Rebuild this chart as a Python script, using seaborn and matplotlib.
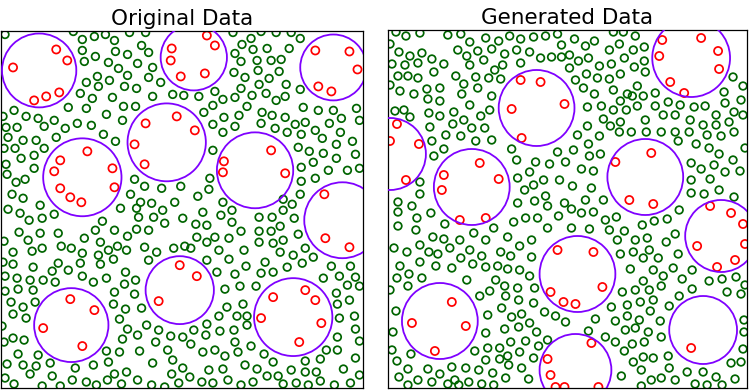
import numpy as np
import matplotlib
matplotlib.use("Agg")
import matplotlib.pyplot as plt
from matplotlib.patches import Circle
import seaborn as sns

# --- Original data: background points (green), points inside holes (red), holes ---
orig_green = np.array([
    (4, 354), (72, 357), (93, 352), (104, 354), (128, 356), (144, 356), (81, 349), (113, 348), (140, 343),
    (81, 338), (114, 337), (126, 334), (147, 336), (94, 332), (83, 327), (107, 326), (136, 325), (151, 321),
    (117, 320), (126, 313), (96, 312), (147, 311), (159, 306), (85, 306), (108, 308), (97, 302), (123, 302),
    (135, 300), (79, 295), (91, 290), (111, 291), (151, 292), (171, 294), (182, 293), (13, 278), (67, 281),
    (85, 280), (122, 282), (134, 282), (2, 272), (25, 272), (37, 270), (53, 268), (105, 274), (121, 268),
    (76, 265), (90, 263), (43, 262), (5, 261), (16, 261), (64, 260), (102, 254), (7, 251), (22, 248),
    (35, 248), (55, 251), (114, 247), (3, 240), (14, 240), (43, 240), (33, 233), (20, 230), (5, 224),
    (33, 220), (6, 214), (24, 209), (15, 206), (133, 209), (143, 202), (160, 200), (179, 202), (11, 194),
    (22, 190), (129, 194), (139, 186), (173, 186), (39, 183), (150, 185),
    (231, 356), (259, 357), (274, 356), (289, 356), (249, 350), (298, 350), (240, 344), (233, 335), (251, 339),
    (265, 340), (287, 340), (239, 327), (255, 328), (269, 328), (279, 329), (232, 316), (256, 318), (277, 317),
    (243, 311), (267, 310), (257, 304), (284, 304), (239, 300), (298, 299), (197, 292), (213, 297),
    (221, 289), (233, 291), (250, 293), (264, 295), (274, 288), (283, 292), (211, 283), (245, 282), (301, 281),
    (316, 278), (331, 278), (354, 280), (202, 276), (260, 276), (270, 273), (283, 271), (339, 270), (222, 271),
    (237, 273), (211, 264), (233, 262), (259, 265), (273, 260), (293, 264), (303, 266), (327, 265), (357, 268),
    (221, 256), (285, 256), (299, 254), (313, 258), (338, 256), (320, 250), (350, 247), (211, 238), (296, 241),
    (307, 237), (321, 235), (334, 244), (353, 234), (311, 226), (334, 230), (299, 221), (326, 218), (345, 218),
    (357, 220), (208, 210), (313, 210), (299, 207), (207, 199), (298, 194), (196, 192), (221, 186), (281, 189),
    (290, 184),
    (7, 179), (119, 180), (135, 180), (161, 178), (19, 175), (28, 168), (41, 170), (53, 174), (137, 171),
    (152, 171), (181, 170), (101, 167), (163, 165), (18, 156), (39, 155), (57, 155), (94, 158), (113, 158),
    (135, 159), (147, 158), (126, 152), (27, 148), (83, 150), (3, 147), (99, 146), (60, 142), (70, 140),
    (41, 140), (31, 137), (12, 136), (81, 135), (107, 138), (116, 142), (125, 138), (143, 141), (155, 136),
    (172, 140), (183, 142), (2, 126), (12, 124), (32, 121), (57, 125), (79, 125), (97, 133), (99, 124),
    (112, 129), (147, 128), (51, 117), (67, 118), (124, 116), (4, 112), (16, 110), (29, 108), (42, 108),
    (81, 112), (92, 106), (105, 110), (54, 106), (123, 104), (134, 108), (4, 97), (17, 99), (32, 98),
    (113, 96), (133, 94), (10, 86), (22, 81), (34, 86), (112, 84), (124, 79), (140, 80), (12, 74), (25, 70),
    (118, 69), (1, 62), (145, 63), (126, 59), (157, 58), (169, 52), (181, 51), (12, 50), (23, 48), (121, 49),
    (136, 53), (154, 46), (3, 46), (17, 34), (37, 33), (105, 37), (118, 36), (138, 37), (166, 38), (6, 24),
    (22, 23), (49, 25), (35, 22), (74, 20), (92, 23), (107, 26), (151, 25), (171, 28), (181, 20), (125, 16),
    (4, 10), (29, 14), (51, 12), (113, 14), (136, 8), (170, 14), (13, 4), (41, 2), (59, 2), (71, 8), (85, 6),
    (95, 3), (106, 8), (120, 4), (150, 3), (163, 1), (177, 5),
    (201, 176), (230, 178), (257, 171), (270, 171), (281, 178), (292, 170), (219, 173), (194, 164), (205, 163),
    (230, 166), (239, 157), (257, 157), (269, 157), (278, 162), (296, 154), (195, 151), (213, 151), (227, 150),
    (205, 146), (257, 146), (271, 145), (281, 148), (303, 140), (189, 140), (217, 138), (242, 138), (278, 136),
    (291, 133), (311, 131), (205, 128), (227, 129), (263, 126), (285, 121), (300, 125), (329, 122), (348, 122),
    (244, 122), (215, 116), (233, 114), (259, 115), (271, 116), (321, 110), (337, 112), (353, 111), (238, 102),
    (254, 102), (223, 99), (334, 95), (345, 103), (357, 102), (241, 84), (225, 81), (335, 84), (347, 88),
    (217, 72), (235, 72), (245, 72), (205, 64), (192, 58), (218, 57), (232, 58), (245, 63), (337, 70),
    (352, 72), (204, 53), (353, 59), (233, 46), (189, 44), (249, 42), (201, 36), (213, 38), (223, 32),
    (236, 36), (262, 34), (324, 38), (335, 38), (335, 51), (357, 47), (353, 30), (271, 26), (303, 27),
    (318, 29), (207, 18), (221, 19), (243, 23), (255, 19), (265, 12), (276, 12), (289, 18), (303, 16),
    (314, 16), (341, 19), (357, 13), (188, 11), (200, 6), (211, 5), (226, 8), (239, 3), (251, 6), (281, 4),
    (294, 5), (306, 3), (318, 7), (332, 3), (348, 5),
])
orig_red = np.array([
    (55, 339), (66, 328), (12, 321), (33, 288), (45, 292), (58, 296),
    (170, 340), (169, 328), (179, 312), (205, 353), (213, 343), (203, 315),
    (313, 338), (347, 337), (355, 319), (316, 302), (329, 297),
    (175, 272), (144, 265), (133, 244), (143, 224), (193, 258),
    (86, 237), (59, 228), (53, 217), (111, 220), (59, 200), (113, 201), (69, 191), (80, 186),
    (269, 238), (222, 227), (221, 216), (283, 215),
    (322, 194), (323, 150), (347, 141),
    (178, 123), (157, 87), (195, 112),
    (69, 89), (93, 78), (42, 60), (81, 42),
    (271, 91), (303, 98), (313, 88), (259, 70), (319, 65), (297, 46),
])
orig_centers = np.array([(38, 318), (192, 331), (331, 321), (165, 246), (81, 211),
                         (253, 218), (340, 168), (178, 98), (70, 63), (291, 71)])
orig_radii = [37, 33, 33, 39, 39, 38, 38, 34, 37, 39]

# --- Generated data ---
gen_green = np.array([
    (8, 356), (18, 352), (32, 355), (2, 344), (60, 353), (73, 354), (82, 346), (98, 350), (111, 347),
    (122, 352), (133, 349), (146, 351), (158, 352), (170, 354), (174, 343), (11, 336), (22, 332), (34, 335),
    (70, 338), (79, 332), (90, 337), (104, 339), (117, 334), (129, 338), (142, 336), (153, 330), (164, 331),
    (174, 331), (4, 324), (17, 323), (30, 325), (44, 329), (56, 324), (82, 323), (96, 328), (107, 318),
    (115, 323), (133, 325), (10, 312), (20, 312), (30, 310), (46, 316), (68, 312), (88, 311), (101, 310),
    (113, 309), (2, 303), (12, 297), (26, 294), (39, 299), (52, 300), (76, 304), (90, 300), (74, 294),
    (40, 289), (52, 287), (104, 292), (82, 283), (7, 277), (16, 278), (22, 271), (41, 275), (52, 272),
    (66, 276), (76, 268), (93, 272), (102, 278), (42, 261), (65, 264), (84, 260), (97, 260), (58, 253),
    (73, 252), (88, 247), (104, 248), (44, 247), (56, 239), (46, 232), (124, 239), (170, 236), (129, 228),
    (148, 226), (162, 224), (178, 226), (142, 216), (156, 208), (172, 208), (130, 210), (137, 198),
    (146, 203), (32, 206), (32, 194), (158, 192), (10, 186), (24, 182), (130, 185), (147, 187), (160, 182),
    (177, 185),
    (226, 356), (236, 356), (248, 352), (187, 349), (198, 342), (207, 347), (222, 338), (232, 344), (246, 338),
    (257, 341), (182, 333), (191, 327), (201, 330), (212, 322), (224, 324), (237, 330), (247, 321), (257, 327),
    (182, 320), (199, 314), (210, 310), (222, 309), (233, 314), (258, 316), (188, 308), (196, 300), (207, 294),
    (226, 298), (240, 294), (250, 302), (268, 295), (233, 287), (245, 292), (256, 292), (239, 278), (250, 282),
    (268, 282), (281, 286), (293, 283), (307, 281), (318, 282), (337, 296), (346, 311), (356, 302), (354, 288),
    (338, 285), (347, 276), (356, 273), (329, 273), (200, 281), (214, 282), (226, 278), (276, 273), (288, 273),
    (303, 268), (316, 263), (329, 263), (342, 266), (216, 269), (233, 266), (258, 268), (200, 262), (190, 253),
    (212, 252), (223, 262), (232, 256), (244, 256), (259, 256), (274, 256), (288, 256), (302, 256), (320, 253),
    (334, 252), (347, 256), (358, 240), (186, 238), (201, 244), (213, 234), (202, 232), (291, 247), (309, 244),
    (322, 240), (332, 234), (346, 228), (194, 219), (206, 217), (304, 225), (314, 219), (327, 223),
    (338, 216), (353, 217), (323, 209), (332, 198), (347, 191), (185, 202), (204, 200), (304, 208), (304, 195),
    (317, 194), (198, 188), (216, 188),
    (10, 176), (43, 175), (10, 162), (29, 170), (28, 158), (57, 164), (106, 160), (126, 166), (138, 170),
    (150, 170), (160, 160), (171, 172), (45, 151), (56, 149), (72, 148), (86, 155), (98, 148), (120, 151),
    (132, 142), (144, 148), (6, 140), (19, 136), (32, 143), (41, 136), (50, 134), (62, 140), (82, 138),
    (94, 132), (113, 136), (123, 132), (144, 131), (12, 122), (32, 126), (48, 122), (64, 120), (73, 130),
    (85, 124), (98, 121), (110, 122), (120, 119), (132, 118), (9, 110), (21, 114), (34, 110), (20, 102),
    (2, 98), (79, 108), (108, 108), (117, 102), (130, 100), (142, 112), (147, 100), (92, 92), (102, 97),
    (118, 92), (131, 88), (146, 85), (8, 77), (114, 80), (100, 73), (124, 71), (134, 74), (157, 76),
    (168, 72), (178, 66), (5, 56), (98, 55), (117, 59), (131, 61), (142, 65), (149, 56), (87, 37), (100, 40),
    (112, 40), (123, 46), (132, 36), (138, 47), (151, 42), (160, 48), (4, 38), (9, 27), (23, 34), (78, 20),
    (98, 28), (112, 29), (120, 32), (121, 23), (134, 20), (146, 30), (20, 19), (40, 19), (64, 21), (91, 18),
    (105, 15), (11, 11), (30, 8), (52, 14), (67, 8), (81, 6), (118, 10), (141, 9), (20, 3), (44, 6), (60, 4),
    (71, 3), (94, 4), (106, 3),
    (184, 179), (194, 175), (206, 176), (218, 168), (229, 171), (184, 160), (202, 159), (222, 158), (237, 157),
    (255, 163), (267, 167), (280, 169), (292, 178), (230, 148), (248, 148), (260, 150), (288, 154), (233, 134),
    (246, 136), (256, 130), (262, 138), (271, 130), (291, 134), (279, 146), (243, 119), (266, 118), (276, 112),
    (286, 120), (295, 109), (305, 118), (305, 99), (322, 107), (335, 109), (349, 111), (358, 103), (340, 96),
    (354, 94), (235, 96), (248, 98), (256, 107), (262, 98), (274, 102), (292, 92), (224, 81), (240, 83),
    (253, 86), (266, 88), (282, 82), (208, 69), (228, 67), (240, 72), (252, 68), (263, 77), (273, 67),
    (201, 57), (218, 51), (228, 46), (238, 58), (248, 60), (261, 56), (274, 51), (357, 68), (357, 56),
    (237, 37), (245, 44), (257, 46), (356, 39), (256, 31), (266, 30), (281, 32), (246, 26), (254, 18),
    (282, 20), (300, 16), (316, 16), (329, 11), (344, 25), (354, 26), (348, 9), (234, 12), (264, 8), (274, 10),
    (288, 8), (308, 4), (320, 3), (335, 3), (254, 2),
])
gen_red = np.array([
    (9, 264), (2, 247), (31, 244), (18, 208),
    (133, 308), (153, 306), (177, 284), (124, 279), (134, 250),
    (275, 348), (314, 350), (331, 337), (272, 332), (332, 319), (283, 306), (297, 295),
    (92, 225), (56, 213), (111, 209), (54, 198), (72, 168), (98, 170),
    (264, 235), (228, 226), (242, 188), (266, 184),
    (170, 138), (163, 96), (176, 86), (188, 84), (206, 136), (215, 101),
    (323, 182), (344, 175), (356, 164), (310, 142), (358, 144), (348, 128), (330, 121),
    (64, 86), (24, 65), (78, 62), (47, 37),
    (304, 40),
    (204, 45), (160, 29), (163, 13), (168, 1), (177, 1), (211, 1),
])
gen_centers = np.array([(2, 234), (149, 280), (304, 330), (84, 201), (258, 211),
                        (190, 114), (334, 152), (52, 67), (316, 58), (188, 18)])
gen_radii = [36, 38, 39, 38, 38, 38, 36, 38, 34, 36]

GREEN = "#006400"
RED = "#ff0000"
PURPLE = "#7f00ff"

sns.set_style("white")
plt.rcParams["font.family"] = ["DejaVu Sans"]

fig = plt.figure(figsize=(7.54, 3.90), dpi=100)
ax_l = fig.add_axes([1 / 754, 2 / 390, 361.5 / 754, 357.5 / 390])
ax_r = fig.add_axes([388 / 754, 2 / 390, 359 / 754, 358 / 390])


def draw_panel(ax, green, red, centers, radii, title):
    for pts, col, size in [(green, GREEN, 30), (red, RED, 34)]:
        sns.scatterplot(x=pts[:, 0], y=pts[:, 1], ax=ax, s=size, marker="o",
                        linewidth=1.25, legend=False, zorder=2)
        coll = ax.collections[-1]
        coll.set_facecolor("none")
        coll.set_edgecolor(col)
    for (cx, cy), r in zip(centers, radii):
        ax.add_patch(Circle((cx, cy), r, fill=False, edgecolor=PURPLE, lw=1.3, zorder=3))
    ax.set_xlim(0, 360)
    ax.set_ylim(0, 358)
    ax.set_xticks([])
    ax.set_yticks([])
    ax.set_xlabel("")
    ax.set_ylabel("")
    for sp in ax.spines.values():
        sp.set_visible(True)
        sp.set_color("black")
        sp.set_linewidth(0.9)
    ax.set_title(title, fontsize=15.5, pad=4, color="black")


draw_panel(ax_l, orig_green, orig_red, orig_centers, orig_radii, "Original Data")
draw_panel(ax_r, gen_green, gen_red, gen_centers, gen_radii, "Generated Data")

fig.savefig("out.png", dpi=100)
